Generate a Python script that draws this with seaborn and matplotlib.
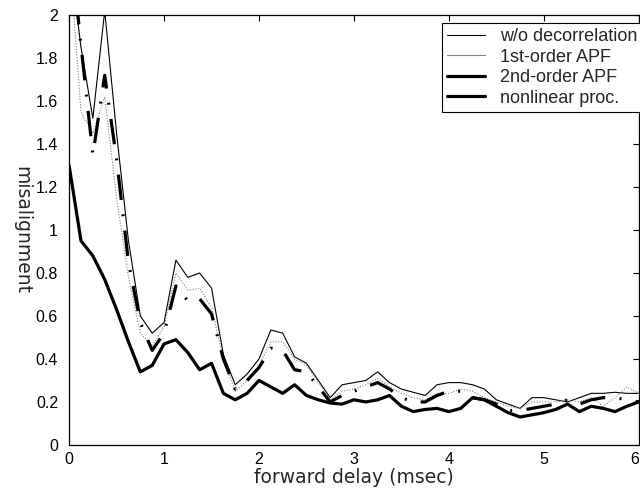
import numpy as np
import pandas as pd
import matplotlib
matplotlib.use("Agg")
import matplotlib.pyplot as plt
from matplotlib.ticker import FuncFormatter, MultipleLocator
import seaborn as sns

# forward delay grid (msec), 0.125 ms steps
delay = [i * 0.125 for i in range(49)]

wo_decorrelation = [
    2.30, 1.85, 1.52, 2.02, 1.45, 0.95, 0.60, 0.52, 0.57, 0.86,
    0.78, 0.80, 0.73, 0.42, 0.28, 0.33, 0.40, 0.535, 0.52, 0.41,
    0.38, 0.30, 0.22, 0.28, 0.29, 0.30, 0.34, 0.29, 0.26, 0.245,
    0.23, 0.28, 0.29, 0.29, 0.28, 0.26, 0.21, 0.19, 0.17, 0.22,
    0.22, 0.21, 0.20, 0.22, 0.24, 0.24, 0.245, 0.24, 0.24,
]
first_order_apf = [
    2.30, 1.55, 1.45, 1.62, 1.15, 0.78, 0.52, 0.46, 0.55, 0.80,
    0.72, 0.73, 0.64, 0.40, 0.25, 0.30, 0.37, 0.48, 0.48, 0.40,
    0.37, 0.29, 0.21, 0.25, 0.26, 0.28, 0.31, 0.27, 0.24, 0.22,
    0.21, 0.24, 0.24, 0.26, 0.25, 0.22, 0.20, 0.18, 0.17, 0.20,
    0.20, 0.20, 0.21, 0.20, 0.22, 0.18, 0.22, 0.27, 0.24,
]
second_order_apf = [
    2.40, 1.86, 1.35, 1.72, 1.33, 0.85, 0.57, 0.44, 0.52, 0.74,
    0.67, 0.68, 0.61, 0.40, 0.26, 0.30, 0.36, 0.45, 0.44, 0.35,
    0.34, 0.27, 0.20, 0.23, 0.25, 0.27, 0.29, 0.26, 0.22, 0.20,
    0.20, 0.23, 0.25, 0.25, 0.22, 0.21, 0.19, 0.16, 0.16, 0.17,
    0.18, 0.19, 0.21, 0.19, 0.21, 0.22, 0.22, 0.21, 0.20,
]
nonlinear_proc = [
    1.30, 0.95, 0.88, 0.77, 0.63, 0.48, 0.34, 0.37, 0.47, 0.49,
    0.43, 0.35, 0.38, 0.24, 0.21, 0.24, 0.30, 0.27, 0.24, 0.28,
    0.23, 0.21, 0.195, 0.19, 0.21, 0.20, 0.21, 0.23, 0.18, 0.155,
    0.165, 0.17, 0.155, 0.17, 0.22, 0.21, 0.18, 0.15, 0.13, 0.14,
    0.15, 0.165, 0.19, 0.155, 0.18, 0.17, 0.155, 0.18, 0.20,
]

series_names = ["w/o decorrelation", "1st-order APF", "2nd-order APF", "nonlinear proc."]
series_values = [wo_decorrelation, first_order_apf, second_order_apf, nonlinear_proc]
x_ticks = [0, 1, 2, 3, 4, 5, 6]

df = pd.concat(
    [pd.DataFrame({"delay": delay, "misalignment": v, "method": n})
     for n, v in zip(series_names, series_values)],
    ignore_index=True,
)

sns.set_style("white")
plt.rcParams["font.family"] = ["Liberation Sans", "DejaVu Sans"]

fig = plt.figure(figsize=(6.4, 4.9), dpi=100)
ax = fig.add_axes([0.108, 0.092, 0.890, 0.877])

styles = {
    "w/o decorrelation": dict(color="black", lw=0.8, ls="-"),
    "1st-order APF": dict(color="0.5", lw=0.8, ls=(0, (1, 1.5))),
    "2nd-order APF": dict(color="black", lw=2.3, ls=(0, (8, 4.5, 0.6, 4.5))),
    "nonlinear proc.": dict(color="black", lw=2.3, ls="-"),
}

for name in series_names:
    st = styles[name]
    sns.lineplot(
        data=df[df["method"] == name], x="delay", y="misalignment",
        ax=ax, color=st["color"], linewidth=st["lw"], linestyle=st["ls"],
        label=name, estimator=None, sort=False,
    )

ax.set_xlim(0, 6)
ax.set_ylim(0, 2)
ax.set_xticks(x_ticks)
ax.set_xticklabels([str(t) for t in x_ticks])
ax.yaxis.set_major_locator(MultipleLocator(0.2))
ax.yaxis.set_major_formatter(FuncFormatter(lambda v, p: f"{v:g}"))
ax.tick_params(direction="in", length=4, width=0.8, top=True, right=True,
               labelsize=11.5, colors="black")
ax.tick_params(axis="y", pad=8)
ax.tick_params(axis="x", pad=5)
for s in ax.spines.values():
    s.set_color("black")
    s.set_linewidth(0.9)

# the last x tick label sits at the right figure edge; keep it inside
ax.xaxis.get_major_ticks()[-1].label1.set_horizontalalignment("right")

ax.set_xlabel("forward delay (msec)", family="DejaVu Sans", fontsize=13.5, labelpad=1)
ax.set_ylabel("misalignment", family="DejaVu Sans", fontsize=13.5, rotation=270,
              labelpad=17, va="bottom")

leg = ax.legend(loc="upper right", bbox_to_anchor=(1.006, 0.982), fontsize=13,
                frameon=True, fancybox=False, framealpha=1, edgecolor="black",
                handlelength=2.1, handletextpad=0.8, borderpad=0.28,
                labelspacing=0.2, borderaxespad=0.0)
leg.get_frame().set_linewidth(0.8)
for h in leg.get_lines():
    h.set_linestyle("-")

fig.savefig("out.png", dpi=100)
